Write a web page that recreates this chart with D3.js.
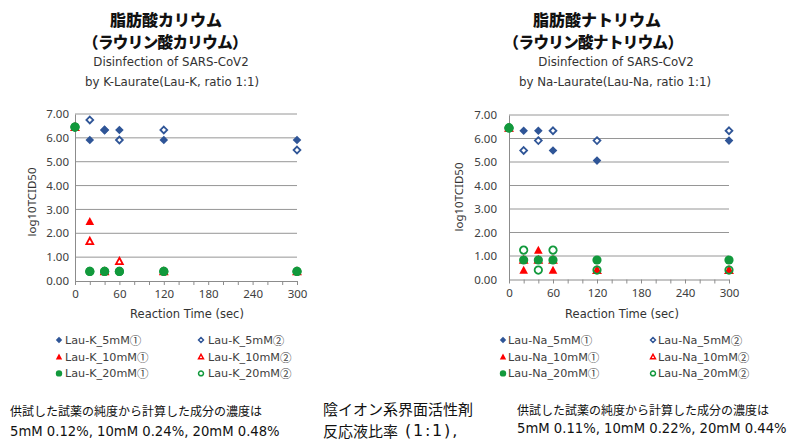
<!DOCTYPE html>
<html>
<head>
<meta charset="utf-8">
<script src="https://cdn.jsdelivr.net/npm/d3@7"></script>
<style>
  html, body { margin: 0; padding: 0; background: #fff; }
  svg { display: block; }
  text { font-family: "DejaVu Sans", "Noto Sans CJK JP", sans-serif; }
  .jp { font-family: "Noto Sans CJK JP", sans-serif; }
  .mixed { font-family: "DejaVu Sans", "Noto Sans CJK JP", sans-serif; }
</style>
</head>
<body>
<svg id="chart" width="795" height="441"></svg>
<script>
// Reaction times (sec) shared by both experiments
const times = [0, 20, 40, 60, 120, 300];
const xTicks = [0, 60, 120, 180, 240, 300];
const yTicks = [0, 1, 2, 3, 4, 5, 6, 7];

// Potassium laurate series (log10 TCID50)
const kNames = ["Lau-K_5mM①", "Lau-K_5mM②", "Lau-K_10mM①", "Lau-K_10mM②", "Lau-K_20mM①", "Lau-K_20mM②"];
const k5mM1  = [6.45, 5.91, 6.33, 6.33, 5.91, 5.91];
const k5mM2  = [6.45, 6.75, 6.33, 5.91, 6.33, 5.49];
const k10mM1 = [6.45, 2.50, 0.40, null, 0.40, 0.40];
const k10mM2 = [6.45, 1.67, 0.40, 0.83, 0.40, 0.40];
const k20mM1 = [6.45, 0.40, 0.40, 0.40, 0.40, 0.40];
const k20mM2 = [6.45, 0.40, 0.40, 0.40, 0.40, 0.40];

// Sodium laurate series (log10 TCID50)
const naNames = ["Lau-Na_5mM①", "Lau-Na_5mM②", "Lau-Na_10mM①", "Lau-Na_10mM②", "Lau-Na_20mM①", "Lau-Na_20mM②"];
const na5mM1  = [6.45, 6.33, 6.33, 5.49, 5.06, 5.91];
const na5mM2  = [6.45, 5.49, 5.91, 6.33, 5.91, 6.33];
const na10mM1 = [6.45, 0.40, 1.25, 0.40, 0.40, 0.40];
const na10mM2 = [6.45, 0.83, 0.83, 0.83, 0.40, 0.40];
const na20mM1 = [6.45, 0.83, 0.83, 0.83, 0.83, 0.83];
const na20mM2 = [6.45, 1.25, 0.40, 1.25, 0.40, 0.40];

// Marker styles per series position: shape, colour, filled/open
const BLUE = "#2F5597", RED = "#FF0000", GREEN = "#12993C";
const markerStyles = [
  { shape: "diamond",  color: BLUE,  filled: true },
  { shape: "diamond",  color: BLUE,  filled: false },
  { shape: "triangle", color: RED,   filled: true },
  { shape: "triangle", color: RED,   filled: false },
  { shape: "circle",   color: GREEN, filled: true },
  { shape: "circle",   color: GREEN, filled: false }
];

function markerPath(shape, s) {
  // s = half-size of the marker box
  if (shape === "diamond") return `M0,${-s}L${s},0L0,${s}L${-s},0Z`;
  if (shape === "triangle") return `M0,${-s}L${s},${s * 0.85}L${-s},${s * 0.85}Z`;
  const p = d3.path(); p.arc(0, 0, s, 0, 2 * Math.PI); return p.toString();
}

function drawMarker(g, st, x, y, s, sw) {
  g.append("path")
    .attr("d", markerPath(st.shape, st.filled ? s : s - sw / 2))
    .attr("transform", `translate(${x},${y})`)
    .attr("fill", st.filled ? st.color : "none")
    .attr("stroke", st.filled ? "none" : st.color)
    .attr("stroke-width", sw);
}

const svg = d3.select("#chart");

function drawPanel(cfg) {
  const g = svg.append("g");
  const x = d3.scaleLinear().domain([0, 300]).range([cfg.x0, cfg.x1]);
  const y = d3.scaleLinear().domain([0, 7]).range([cfg.y0, cfg.y1]);

  // titles
  g.append("text").attr("class", "jp").attr("x", cfg.tx1).attr("y", 26)
    .attr("text-anchor", "middle").attr("font-size", 16).attr("font-weight", 900)
    .attr("fill", "#111").text(cfg.title1);
  g.append("text").attr("class", "jp").attr("x", cfg.tx2).attr("y", 47.5)
    .attr("text-anchor", "middle").attr("font-size", 15.5).attr("font-weight", 900)
    .attr("letter-spacing", -0.6).attr("fill", "#111").text(cfg.title2);
  g.append("text").attr("x", cfg.tx3).attr("y", 66)
    .attr("text-anchor", "middle").attr("font-size", 11.8).attr("fill", "#333").text(cfg.title3);
  g.append("text").attr("x", cfg.tx4).attr("y", 86)
    .attr("text-anchor", "middle").attr("font-size", 11.8).attr("fill", "#333").text(cfg.title4);

  // horizontal gridlines
  g.append("g").selectAll("line").data(yTicks.filter(d => d > 0)).join("line")
    .attr("x1", cfg.x0).attr("x2", cfg.x1)
    .attr("y1", d => y(d)).attr("y2", d => y(d))
    .attr("stroke", "#969696").attr("stroke-width", 1);

  // y axis
  const ya = g.append("g").attr("transform", `translate(${cfg.x0},0)`)
    .call(d3.axisLeft(y).tickValues(yTicks).tickFormat(d3.format(".2f")).tickSize(0).tickPadding(cfg.yPad));
  ya.select(".domain").attr("stroke", "#8c8c8c");
  ya.selectAll("text").attr("font-size", 11.5).attr("fill", "#404040")
    .style("font-family", '"Noto Sans", sans-serif');

  // x axis with minor ticks every 20 sec
  const xa = g.append("g").attr("transform", `translate(0,${cfg.y0})`)
    .call(d3.axisBottom(x).tickValues(d3.range(0, 301, 20)).tickSize(4).tickSizeOuter(0)
      .tickFormat(d => xTicks.includes(d) ? d : ""));
  xa.select(".domain").attr("stroke", "#8c8c8c");
  xa.selectAll("line").attr("stroke", "#8c8c8c");
  xa.selectAll("text").attr("font-size", 11.5).attr("fill", "#404040").attr("dy", "0.9em")
    .style("font-family", '"Noto Sans", sans-serif');

  // axis titles
  g.append("text").attr("transform", `translate(${cfg.ytx},${cfg.yty}) rotate(-90)`)
    .attr("text-anchor", "middle").attr("dominant-baseline", "central")
    .attr("font-size", 11.5).attr("fill", "#333")
    .style("font-family", '"Noto Sans", sans-serif').text("log10TCID50");
  g.append("text").attr("x", cfg.xtx).attr("y", 318)
    .attr("text-anchor", "middle").attr("font-size", 11.5).attr("fill", "#333")
    .text("Reaction Time (sec)");

  // data markers, drawn in series order
  const pts = g.append("g");
  cfg.series.forEach((vals, i) => {
    const st = markerStyles[i];
    vals.forEach((v, j) => {
      if (v == null) return;
      const sz = st.shape === "circle" ? 4.6 : 4.3;
      drawMarker(pts, st, x(times[j]), y(v), sz, 1.8);
    });
  });

  // legend (two columns, three rows); circled run number set in the CJK font
  const lg = g.append("g");
  cfg.names.forEach((name, i) => {
    const col = i % 2, row = Math.floor(i / 2);
    const ly = 340 + row * 16.7;
    const mx = col === 0 ? cfg.lm1 : cfg.lm2;
    const tx = col === 0 ? cfg.lt1 : cfg.lt2;
    drawMarker(lg, markerStyles[i], mx, ly, 3.2, 1.5);
    const t = lg.append("text").attr("x", tx).attr("y", ly).attr("dominant-baseline", "central")
      .attr("font-size", 11.2).attr("fill", "#404040");
    t.append("tspan").text(name.slice(0, -1));
    t.append("tspan").attr("class", "jp").attr("font-size", 11.5).text(name.slice(-1));
  });
}

drawPanel({
  x0: 75, x1: 297, y0: 281, y1: 114, yPad: 6,
  tx1: 166, tx2: 165, tx3: 171, tx4: 172,
  title1: "脂肪酸カリウム", title2: "（ラウリン酸カリウム）",
  title3: "Disinfection of SARS-CoV2", title4: "by K-Laurate(Lau-K, ratio 1:1)",
  ytx: 31, yty: 202, xtx: 187,
  series: [k5mM1, k5mM2, k10mM1, k10mM2, k20mM1, k20mM2], names: kNames,
  lm1: 59, lt1: 65, lm2: 201, lt2: 208
});

drawPanel({
  x0: 509, x1: 729, y0: 279.5, y1: 115, yPad: 12,
  tx1: 597, tx2: 593, tx3: 616, tx4: 615,
  title1: "脂肪酸ナトリウム", title2: "（ラウリン酸ナトリウム）",
  title3: "Disinfection of SARS-CoV2", title4: "by Na-Laurate(Lau-Na, ratio 1:1)",
  ytx: 458, yty: 197, xtx: 622,
  series: [na5mM1, na5mM2, na10mM1, na10mM2, na20mM1, na20mM2], names: naNames,
  lm1: 503, lt1: 508, lm2: 653, lt2: 658
});

// notes under the charts
const notes = svg.append("g");
notes.append("text").attr("class", "jp").attr("x", 10).attr("y", 410).attr("dominant-baseline", "central")
  .attr("font-size", 12).attr("fill", "#111").text("供試した試薬の純度から計算した成分の濃度は");
notes.append("text").attr("x", 10).attr("y", 431).attr("dominant-baseline", "central")
  .attr("font-size", 13.2).attr("fill", "#111").text("5mM 0.12%, 10mM 0.24%, 20mM 0.48%");
notes.append("text").attr("class", "jp").attr("x", 323).attr("y", 408).attr("dominant-baseline", "central")
  .attr("font-size", 15).attr("fill", "#111").text("陰イオン系界面活性剤");
const ratio = notes.append("text").attr("class", "mixed").attr("x", 323).attr("y", 430)
  .attr("dominant-baseline", "central").attr("font-size", 15).attr("fill", "#111");
ratio.append("tspan").attr("class", "jp").text("反応液比率");
ratio.append("tspan").attr("font-size", 16).attr("letter-spacing", 1.8).text(" (1:1),");
notes.append("text").attr("class", "jp").attr("x", 517).attr("y", 409).attr("dominant-baseline", "central")
  .attr("font-size", 12).attr("fill", "#111").text("供試した試薬の純度から計算した成分の濃度は");
notes.append("text").attr("x", 517).attr("y", 428).attr("dominant-baseline", "central")
  .attr("font-size", 13.2).attr("fill", "#111").text("5mM 0.11%, 10mM 0.22%, 20mM 0.44%");
</script>
</body>
</html>
